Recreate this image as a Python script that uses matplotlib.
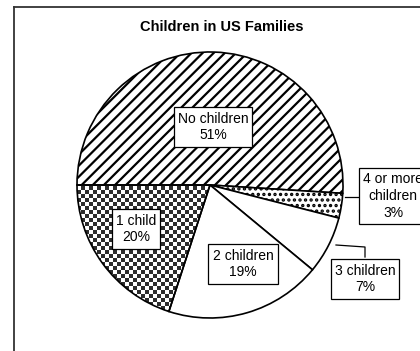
import matplotlib
matplotlib.use("Agg")
import matplotlib.pyplot as plt
import numpy as np
from matplotlib.lines import Line2D

plt.rcParams['font.family'] = ['Liberation Sans', 'DejaVu Sans']
plt.rcParams['hatch.linewidth'] = 1.6

# ---- data ----
categories = ["No children", "4 or more\nchildren", "3 children", "2 children", "1 child"]
percents = [51, 3, 7, 19, 20]
title = "Children in US Families"

W, H = 420, 351
fig = plt.figure(figsize=(W / 100, H / 100), dpi=100)
ax = fig.add_axes([0, 0, 1, 1])

def Y(py):
    return H - py

cx, cy, r = 210, Y(185), 133
hatches = ['///', '...', None, None, None]
wedges, _ = ax.pie(percents, startangle=180, counterclock=False,
                   center=(cx, cy), radius=r,
                   colors=['white'] * len(percents),
                   wedgeprops=dict(edgecolor='black', linewidth=1.2))
for w, h in zip(wedges, hatches):
    if h:
        w.set_hatch(h)

# checkerboard fill for "1 child"
cell = 4
x0, x1 = cx - r - 4, cx + 10
y0, y1 = cy - r - 4, cy + 4
nx = int((x1 - x0) / cell)
ny = int((y1 - y0) / cell)
ii, jj = np.meshgrid(np.arange(nx), np.arange(ny))
board = ((ii + jj) % 2).astype(float)
img = np.ones((ny, nx, 3))
img[board == 1] = [0.18, 0.18, 0.18]
wchild = wedges[4]
wchild.set_facecolor('none')
im = ax.imshow(img, extent=(x0, x0 + nx * cell, y0, y0 + ny * cell),
               interpolation='nearest', zorder=0.5, aspect='auto')
im.set_clip_path(wchild)

ax.set_xlim(0, W)
ax.set_ylim(0, H)
ax.set_aspect('auto')
ax.axis('off')

# labels
label_pos = [(213, 127), (393, 196), (365, 279), (243, 264), (136, 229)]
for name, p, (lx, ly) in zip(categories, percents, label_pos):
    ax.text(lx, Y(ly), f"{name}\n{p}%", ha='center', va='center', fontsize=10,
            linespacing=1.25, zorder=5,
            bbox=dict(boxstyle='square,pad=0.3', fc='white', ec='black', lw=0.9))

# leader lines
ax.plot([345, 359], [Y(197), Y(197)], color='black', lw=0.9, zorder=4)
ax.plot([336, 365, 365], [Y(245), Y(247), Y(257)], color='black', lw=0.9, zorder=4)

ax.text(222, Y(27), title, ha='center', va='center', fontsize=10.5, fontweight='bold')

# frame border
fig.add_artist(Line2D([14 / W, 14 / W], [0, 1 - 7 / H], transform=fig.transFigure,
                      color='#333333', lw=1.3))
fig.add_artist(Line2D([14 / W, 1], [1 - 7 / H, 1 - 7 / H], transform=fig.transFigure,
                      color='#333333', lw=1.3))

fig.savefig("out.png", dpi=100)
